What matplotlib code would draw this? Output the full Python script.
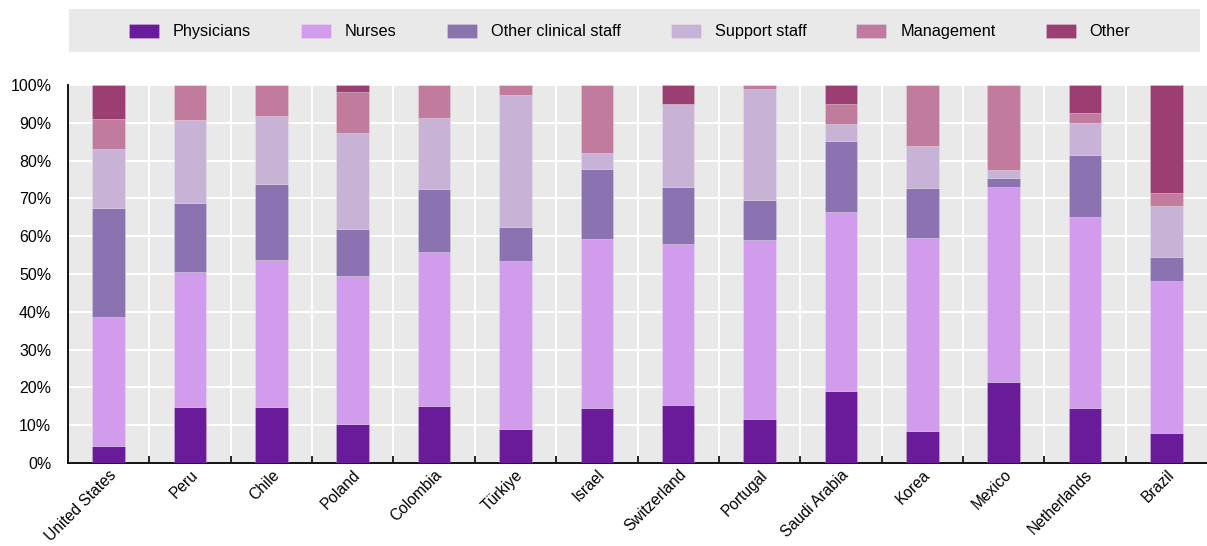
import numpy as np
import matplotlib
matplotlib.use("Agg")
from matplotlib import pyplot as plt
from matplotlib.patches import Rectangle
from matplotlib.transforms import ScaledTranslation

plt.rcParams['font.family'] = ['Liberation Sans', 'DejaVu Sans']

# Share of hospital staff by category (%)
countries = ["United States", "Peru", "Chile", "Poland", "Colombia", "Türkiye", "Israel",
             "Switzerland", "Portugal", "Saudi Arabia", "Korea", "Mexico", "Netherlands", "Brazil"]
physicians = [4.5, 14.8, 14.7, 10.3, 15.2, 9.1, 14.6, 15.4, 11.7, 19.0, 8.5, 21.4, 14.5, 7.9]
nurses = [34.1, 35.8, 39.1, 39.1, 40.5, 44.4, 44.6, 42.5, 47.3, 47.4, 50.9, 51.5, 50.7, 40.2]
other_clinical = [28.9, 18.2, 20.1, 12.4, 16.8, 9.0, 18.6, 15.2, 10.6, 18.9, 13.4, 2.4, 16.4, 6.4]
support = [15.5, 21.9, 18.0, 25.6, 18.9, 34.8, 4.2, 21.8, 29.3, 4.4, 11.0, 2.2, 8.4, 13.5]
management = [8.0, 9.3, 8.1, 10.8, 8.6, 2.7, 18.0, 0.0, 1.1, 5.4, 16.2, 22.5, 2.6, 3.3]
other = [9.0, 0.0, 0.0, 1.8, 0.0, 0.0, 0.0, 5.1, 0.0, 4.9, 0.0, 0.0, 7.4, 28.7]

series = [("Physicians", physicians, "#6a1b9a"),
          ("Nurses", nurses, "#d19cec"),
          ("Other clinical staff", other_clinical, "#8b72b1"),
          ("Support staff", support, "#c8b2d6"),
          ("Management", management, "#c17b9d"),
          ("Other", other, "#9b3f72")]

fig = plt.figure(figsize=(12.07, 5.46), dpi=100)
ax = fig.add_axes([68 / 1207, 1 - 463 / 546, 1 - 68 / 1207, 378 / 546])
ax.set_facecolor("#e9e9e9")

x = np.arange(len(countries))
bottom = np.zeros(len(countries))
handles = []
for name, vals, col in series:
    vals = np.array(vals)
    b = ax.bar(x, vals, width=0.4, bottom=bottom, color=col, label=name,
               edgecolor=(1, 1, 1, 0.35), linewidth=0.4, zorder=3)
    handles.append(b)
    bottom += vals

ax.set_xlim(-0.5, len(countries) - 0.5)
ax.set_ylim(0, 100)
ax.set_yticks(np.arange(0, 101, 10))
ax.set_yticklabels([f"{v}%" for v in range(0, 101, 10)], fontsize=11.5)
ax.set_xticks(x)
ax.set_xticklabels(countries, rotation=45, ha="right", va="top",
                   rotation_mode="anchor", fontsize=11.2)
shift = ScaledTranslation(4 / 100, 0, fig.dpi_scale_trans)
for lbl in ax.get_xticklabels():
    lbl.set_transform(lbl.get_transform() + shift)
ax.set_xticks(x[:-1] + 0.5, minor=True)
ax.tick_params(axis="x", which="major", length=0, pad=3)
ax.tick_params(axis="x", which="minor", direction="in", length=5, width=1.2, color="black")
ax.tick_params(axis="y", length=0, pad=12)

ax.grid(axis="y", color="white", linewidth=1.5, zorder=0)
ax.grid(axis="x", which="minor", color="white", linewidth=1.5, zorder=0)
ax.set_axisbelow(True)
for s in ["top", "right"]:
    ax.spines[s].set_visible(False)
for s in ["left", "bottom"]:
    ax.spines[s].set_linewidth(1.3)
    ax.spines[s].set_color("black")

# legend box
fig.patches.append(Rectangle((69 / 1207, 1 - 52 / 546), 1131 / 1207, 43 / 546,
                             transform=fig.transFigure, facecolor="#e9e9e9",
                             edgecolor="none", zorder=0))
fig.legend(handles=handles, loc="center", bbox_to_anchor=(629.5 / 1207, 1 - 31.5 / 546),
           ncol=6, frameon=False, fontsize=11.7, handlelength=1.85, handleheight=1.0,
           handletextpad=0.86, columnspacing=3.08)

plt.savefig("out.png", dpi=100)
